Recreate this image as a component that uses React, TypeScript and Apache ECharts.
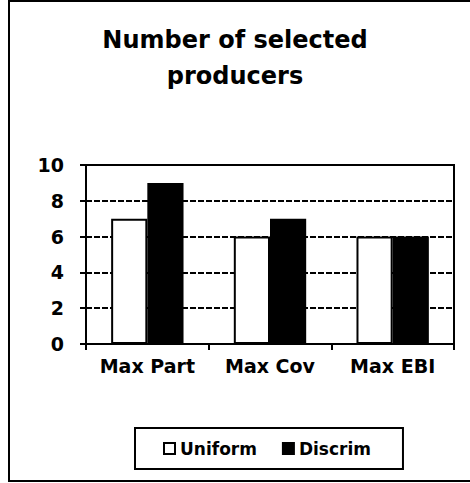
import React, { useEffect, useRef } from "react";
import * as echarts from "echarts";

const categories = ["Max Part", "Max Cov", "Max EBI"];
const uniformValues = [7, 6, 6];
const discrimValues = [9, 7, 6];
const seriesNames = ["Uniform", "Discrim"];
const titleText = "Number of selected\nproducers";

const FONT = "DejaVu Sans";

export default function App() {
  const ref = useRef<HTMLDivElement>(null);
  useEffect(() => {
    if (!ref.current) return;
    const chart = echarts.init(ref.current, undefined, { renderer: "svg" });
    chart.setOption({
      animation: false,
      backgroundColor: "#ffffff",
      title: {
        text: titleText,
        left: "center",
        top: 17,
        textStyle: {
          fontFamily: FONT,
          fontWeight: "bold",
          fontSize: 24,
          lineHeight: 36,
          color: "#000",
        },
      },
      graphic: [
        {
          type: "rect",
          shape: { x: 9, y: 1, width: 480, height: 480 },
          style: { fill: "none", stroke: "#000", lineWidth: 2 },
          z: 100,
        },
      ],
      legend: {
        left: 135,
        top: 428,
        width: 268,
        orient: "horizontal",
        padding: [12, 32, 12, 28],
        borderColor: "#000",
        borderWidth: 2,
        itemWidth: 11,
        itemHeight: 11,
        itemGap: 25,
        icon: "rect",
        textStyle: {
          fontFamily: FONT,
          fontWeight: "bold",
          fontSize: 17,
          color: "#000",
          padding: [0, 0, 0, 0],
        },
        data: seriesNames,
      },
      grid: {
        left: 86,
        right: 16,
        top: 165,
        bottom: 139,
        show: true,
        borderColor: "#000",
        borderWidth: 2,
        backgroundColor: "transparent",
      },
      xAxis: {
        type: "category",
        data: categories,
        axisLine: { lineStyle: { color: "#000", width: 2 } },
        axisTick: {
          show: true,
          length: 6,
          inside: false,
          interval: 0,
          lineStyle: { color: "#000", width: 2 },
        },
        axisLabel: {
          interval: 0,
          fontFamily: FONT,
          fontWeight: "bold",
          fontSize: 19,
          color: "#000",
          margin: 12,
        },
      },
      yAxis: {
        type: "value",
        min: 0,
        max: 10,
        interval: 2,
        axisLine: { show: true, lineStyle: { color: "#000", width: 2 } },
        axisTick: {
          show: true,
          length: 6,
          lineStyle: { color: "#000", width: 2 },
        },
        axisLabel: {
          fontFamily: FONT,
          fontWeight: "bold",
          fontSize: 19,
          color: "#000",
          margin: 22,
        },
        splitLine: {
          show: true,
          lineStyle: { color: "#000", width: 2, type: [6, 2] },
        },
      },
      series: [
        {
          name: seriesNames[0],
          type: "bar",
          data: uniformValues,
          barGap: "0%",
          barCategoryGap: "41%",
          itemStyle: { color: "#ffffff", borderColor: "#000", borderWidth: 2 },
        },
        {
          name: seriesNames[1],
          type: "bar",
          data: discrimValues,
          barGap: "0%",
          barCategoryGap: "41%",
          itemStyle: { color: "#000000", borderColor: "#000", borderWidth: 2 },
        },
      ],
    });
    return () => chart.dispose();
  }, []);
  return (
    <div
      ref={ref}
      style={{ position: "absolute", left: 0, top: 0, width: 470, height: 483 }}
    />
  );
}
